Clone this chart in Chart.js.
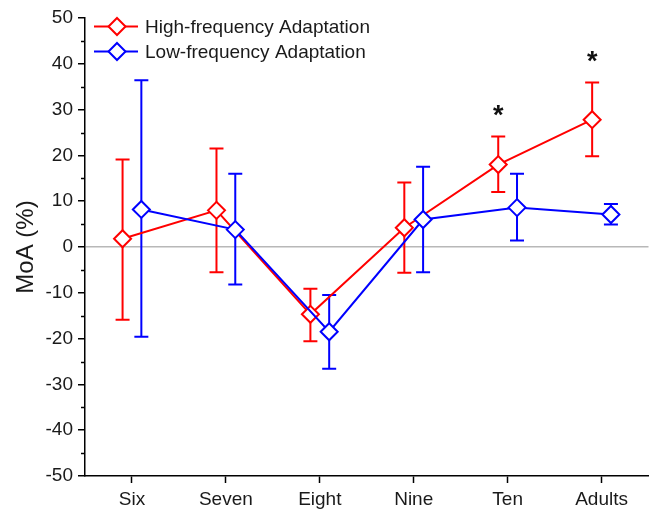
<!DOCTYPE html>
<html>
<head>
<meta charset="utf-8">
<script src="https://cdn.jsdelivr.net/npm/chart.js@4.4.0/dist/chart.umd.min.js"></script>
<style>
  body { margin: 0; background: #fff; }
  #wrap { width: 659px; height: 512px; }
</style>
</head>
<body>
<div id="wrap"><canvas id="myChart" width="659" height="512"></canvas></div>
<script>
// 연령대 (x축)
var categories = ['Six', 'Seven', 'Eight', 'Nine', 'Ten', 'Adults'];

// High-frequency: 평균, 위/아래 오차 끝
var highMean  = [1.8, 8.0, -14.7, 4.2, 18.0, 27.8];
var highUpper = [19.1, 21.5, -9.1, 14.1, 24.1, 35.9];
var highLower = [-15.9, -5.5, -20.6, -5.6, 12.0, 19.8];

// Low-frequency
var lowMean  = [8.2, 3.8, -18.5, 6.0, 8.6, 7.1];
var lowUpper = [36.4, 16.0, -10.5, 17.5, 16.0, 9.4];
var lowLower = [-19.6, -8.2, -26.6, -5.5, 1.4, 4.9];

// 유의차 표시
var significance = ['', '', '', '', '*', '*'];

var FONT = "'Liberation Sans', Arial, sans-serif";
var RED = '#ff0000';
var BLUE = '#0000ff';

function toPoints(means, shift) {
    return means.map(function (v, i) { return { x: i + shift, y: v }; });
}

var errorBars = {
    id: 'errorBars',
    beforeDatasetsDraw: function (chart) {
        var ctx = chart.ctx;
        var ys = chart.scales.y;
        chart.data.datasets.forEach(function (ds, di) {
            var meta = chart.getDatasetMeta(di);
            ctx.save();
            ctx.strokeStyle = ds.borderColor;
            ctx.lineWidth = 2;
            meta.data.forEach(function (pt, i) {
                var top = ys.getPixelForValue(ds.upper[i]);
                var bot = ys.getPixelForValue(ds.lower[i]);
                var x = pt.x;
                ctx.beginPath();
                ctx.moveTo(x, top); ctx.lineTo(x, bot);
                ctx.moveTo(x - 7, top); ctx.lineTo(x + 7, top);
                ctx.moveTo(x - 7, bot); ctx.lineTo(x + 7, bot);
                ctx.stroke();
            });
            ctx.restore();
        });
    },
    afterDatasetsDraw: function (chart) {
        var ctx = chart.ctx;
        var xs = chart.scales.x, ys = chart.scales.y;
        ctx.save();
        ctx.fillStyle = '#111';
        ctx.font = 'bold 27px ' + FONT;
        ctx.textAlign = 'center';
        ctx.textBaseline = 'alphabetic';
        significance.forEach(function (s, i) {
            if (!s) return;
            var x = xs.getPixelForValue(i - 0.1);
            var y = ys.getPixelForValue(highUpper[i]) - 13;
            ctx.fillText(s, x, y);
        });
        ctx.restore();
    },
    afterDraw: function (chart) {
        var ctx = chart.ctx;
        var ys = chart.scales.y;
        var area = chart.chartArea;
        ctx.save();
        // 보조 눈금 (y축)
        ctx.strokeStyle = '#000';
        ctx.lineWidth = 1.5;
        for (var v = -45; v <= 45; v += 10) {
            var py = Math.round(ys.getPixelForValue(v)) + 0.5;
            ctx.beginPath();
            ctx.moveTo(area.left - 4, py);
            ctx.lineTo(area.left, py);
            ctx.stroke();
        }
        // 범례
        ctx.font = '19px ' + FONT;
        ctx.textBaseline = 'middle';
        ctx.textAlign = 'left';
        chart.data.datasets.forEach(function (ds, di) {
            var y = area.top + 8.5 + di * 25;
            var x0 = area.left + 9, x1 = area.left + 53, cx = area.left + 32;
            ctx.strokeStyle = ds.borderColor;
            ctx.lineWidth = 2;
            ctx.beginPath();
            ctx.moveTo(x0, y); ctx.lineTo(x1, y);
            ctx.stroke();
            ctx.beginPath();
            ctx.moveTo(cx, y - 8.5); ctx.lineTo(cx + 8.5, y);
            ctx.lineTo(cx, y + 8.5); ctx.lineTo(cx - 8.5, y);
            ctx.closePath();
            ctx.fillStyle = '#fff';
            ctx.fill();
            ctx.stroke();
            ctx.fillStyle = '#1a1a1a';
            ctx.fillText(ds.label, x1 + 7, y + 1);
        });
        ctx.restore();
    }
};

var bgPlugin = {
    id: 'bg',
    beforeDraw: function (chart) {
        var ctx = chart.ctx;
        ctx.save();
        ctx.fillStyle = '#fff';
        ctx.fillRect(0, 0, chart.width, chart.height);
        ctx.restore();
    }
};

var ctx = document.getElementById('myChart').getContext('2d');

var myChart = new Chart(ctx, {
    type: 'scatter',
    data: {
        datasets: [{
            label: 'High-frequency Adaptation',
            data: toPoints(highMean, -0.1),
            upper: highUpper,
            lower: highLower,
            showLine: true,
            borderColor: RED,
            borderWidth: 2,
            pointStyle: 'rectRot',
            pointRadius: 8.5,
            pointBorderWidth: 2,
            pointBackgroundColor: '#fff',
            pointBorderColor: RED,
            clip: false,
            order: 1
        }, {
            label: 'Low-frequency Adaptation',
            data: toPoints(lowMean, 0.1),
            upper: lowUpper,
            lower: lowLower,
            showLine: true,
            borderColor: BLUE,
            borderWidth: 2,
            pointStyle: 'rectRot',
            pointRadius: 8.5,
            pointBorderWidth: 2,
            pointBackgroundColor: '#fff',
            pointBorderColor: BLUE,
            clip: false,
            order: 0
        }]
    },
    options: {
        responsive: false,
        animation: false,
        layout: { padding: { top: 18, right: 1, left: 0, bottom: 0 } },
        plugins: {
            legend: { display: false },
            tooltip: { enabled: false }
        },
        scales: {
            x: {
                type: 'linear',
                min: -0.5,
                max: 5.5,
                afterBuildTicks: function (scale) {
                    scale.ticks = categories.map(function (c, i) { return { value: i }; });
                },
                afterFit: function (scale) {
                    scale.height = 36;
                    scale.paddingLeft = 0;
                    scale.paddingRight = 0;
                },
                ticks: {
                    color: '#1a1a1a',
                    font: { family: FONT, size: 19 },
                    padding: 5,
                    maxRotation: 0,
                    autoSkip: false,
                    callback: function (v) { return categories[v]; }
                },
                grid: {
                    drawOnChartArea: false,
                    tickLength: 7,
                    tickColor: '#000',
                    tickWidth: 1.5
                },
                border: { color: '#000', width: 1.5 }
            },
            y: {
                min: -50,
                max: 50,
                afterFit: function (scale) {
                    scale.width = 85;
                    scale.paddingTop = 0;
                    scale.paddingBottom = 0;
                },
                ticks: {
                    stepSize: 10,
                    color: '#1a1a1a',
                    font: { family: FONT, size: 19 },
                    padding: 5
                },
                title: {
                    display: true,
                    text: 'MoA (%)',
                    color: '#1a1a1a',
                    font: { family: FONT, size: 24 },
                    padding: { top: 12, bottom: 0 }
                },
                grid: {
                    drawOnChartArea: true,
                    color: function (c) { return c.tick && c.tick.value === 0 ? '#b8b8b8' : 'rgba(0,0,0,0)'; },
                    lineWidth: 1.5,
                    tickLength: 7,
                    tickColor: '#000',
                    tickWidth: 1.5
                },
                border: { color: '#000', width: 1.5 }
            }
        }
    },
    plugins: [bgPlugin, errorBars]
});
</script>
</body>
</html>
